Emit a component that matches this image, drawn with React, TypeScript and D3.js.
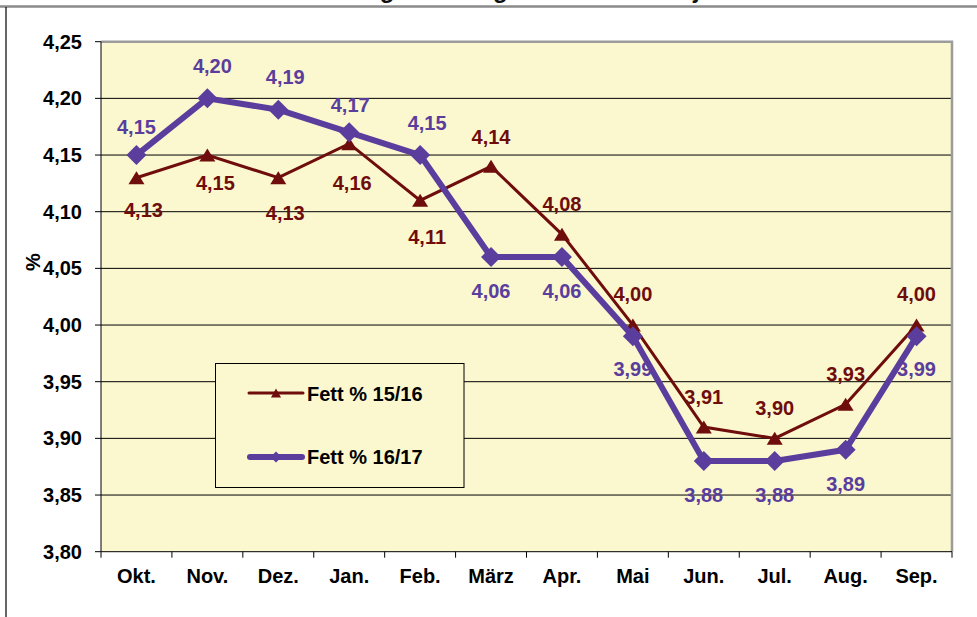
import React from "react";
import * as d3 from "d3";

const months = ["Okt.", "Nov.", "Dez.", "Jan.", "Feb.", "März", "Apr.", "Mai", "Jun.", "Jul.", "Aug.", "Sep."];
const fett1516 = [4.13, 4.15, 4.13, 4.16, 4.11, 4.14, 4.08, 4.0, 3.91, 3.9, 3.93, 4.0];
const fett1617 = [4.15, 4.2, 4.19, 4.17, 4.15, 4.06, 4.06, 3.99, 3.88, 3.88, 3.89, 3.99];
const yTicks = [3.8, 3.85, 3.9, 3.95, 4.0, 4.05, 4.1, 4.15, 4.2, 4.25];

// label centre offsets (dx, dy) from each point, in px
const off1516: [number, number][] = [
  [7, 32], [8, 28], [7, 35], [3, 39], [7, 37], [0, -29], [0, -30], [0, -31], [0, -30], [0, -30], [0, -30], [0, -31],
];
const off1617: [number, number][] = [
  [0, -28], [5, -32], [7, -33], [1, -27], [7, -32], [0, 34], [0, 34], [0, 33], [0, 34], [0, 34], [0, 34], [0, 33],
];

const W = 977;
const H = 617;
const plot = { left: 101, right: 952, top: 41.7, bottom: 551.7 };
const red = "#6f0c0c";
const purple = "#5a3d9c";
const fmt = (v: number) => v.toFixed(2).replace(".", ",");

export default function App() {
  React.useEffect(() => {
    document.body.style.margin = "0";
  }, []);

  const x = d3.scaleBand<string>().domain(months).range([plot.left, plot.right]);
  const y = d3.scaleLinear().domain([3.8, 4.25]).range([plot.bottom, plot.top]);
  const cx = (i: number) => (x(months[i]) ?? 0) + x.bandwidth() / 2;

  const line = d3
    .line<number>()
    .x((_, i) => cx(i))
    .y((d) => y(d));

  const tri = (px: number, py: number, w: number, h: number) =>
    `M${px},${py - h / 2}L${px + w / 2},${py + h / 2}L${px - w / 2},${py + h / 2}Z`;
  const dia = (px: number, py: number, s: number) =>
    `M${px},${py - s}L${px + s},${py}L${px},${py + s}L${px - s},${py}Z`;

  const font = "'Liberation Sans', Arial, sans-serif";
  const bounds = [...months.map((m) => x(m) ?? 0), plot.right];
  const fs = 20;

  return (
    <svg width={W} height={H} style={{ display: "block", fontFamily: font }}>
      <rect x={0} y={0} width={W} height={H} fill="#ffffff" />
      {/* title, cut off by the top edge */}
      <text x={495} y={-2} textAnchor="middle" fontSize={24} fontWeight="bold" fill="#111">
        Entwicklung des Fettgehaltes im Milchjahr
      </text>
      <line x1={0} x2={W} y1={6.5} y2={6.5} stroke="#8a8a8a" strokeWidth={2.5} />
      <line x1={6} x2={6} y1={7} y2={H} stroke="#000" strokeWidth={1.2} />

      <rect
        x={plot.left}
        y={plot.top}
        width={plot.right - plot.left}
        height={plot.bottom - plot.top}
        fill="#fbf7cf"
      />
      {yTicks.slice(1, -1).map((t) => (
        <line key={t} x1={plot.left} x2={plot.right} y1={y(t)} y2={y(t)} stroke="#000" strokeWidth={1} />
      ))}
      <path
        d={`M${plot.left},${plot.top}H${plot.right}V${plot.bottom}`}
        fill="none"
        stroke="#9c9c9c"
        strokeWidth={2.5}
      />
      <line x1={plot.left} x2={plot.left} y1={plot.top} y2={plot.bottom} stroke="#000" strokeWidth={1} />
      <line x1={plot.left} x2={plot.right} y1={plot.bottom} y2={plot.bottom} stroke="#000" strokeWidth={1} />

      {yTicks.map((t) => (
        <g key={t}>
          <line x1={plot.left - 6} x2={plot.left} y1={y(t)} y2={y(t)} stroke="#000" />
          <text x={82} y={y(t) + 7} textAnchor="end" fontSize={fs} fontWeight="bold" fill="#000">
            {fmt(t)}
          </text>
        </g>
      ))}
      {bounds.map((b, i) => (
        <line key={i} x1={b} x2={b} y1={plot.bottom} y2={plot.bottom + 6} stroke="#000" />
      ))}
      {months.map((m, i) => (
        <text key={m} x={cx(i)} y={583} textAnchor="middle" fontSize={fs} fontWeight="bold" fill="#000">
          {m}
        </text>
      ))}
      <text
        transform={`translate(40,262) rotate(-90)`}
        textAnchor="middle"
        fontSize={fs}
        fontWeight="bold"
        fill="#000"
      >
        %
      </text>

      {/* series 15/16 */}
      <path d={line(fett1516) ?? ""} fill="none" stroke={red} strokeWidth={3} />
      {fett1516.map((v, i) => (
        <path key={i} d={tri(cx(i), y(v), 16, 13)} fill={red} />
      ))}
      {/* series 16/17 */}
      <path d={line(fett1617) ?? ""} fill="none" stroke={purple} strokeWidth={6} strokeLinejoin="round" />
      {fett1617.map((v, i) => (
        <path key={i} d={dia(cx(i), y(v), 10)} fill={purple} />
      ))}

      {fett1516.map((v, i) => (
        <text
          key={i}
          x={cx(i) + off1516[i][0]}
          y={y(v) + off1516[i][1] + 7}
          textAnchor="middle"
          fontSize={fs}
          fontWeight="bold"
          fill={red}
        >
          {fmt(v)}
        </text>
      ))}
      {fett1617.map((v, i) => (
        <text
          key={i}
          x={cx(i) + off1617[i][0]}
          y={y(v) + off1617[i][1] + 7}
          textAnchor="middle"
          fontSize={fs}
          fontWeight="bold"
          fill={purple}
        >
          {fmt(v)}
        </text>
      ))}

      {/* legend */}
      <rect x={215.5} y={363.5} width={248.5} height={124} fill="#fbf7cf" stroke="#000" strokeWidth={1} />
      <line x1={249} x2={303} y1={393} y2={393} stroke={red} strokeWidth={3} strokeLinecap="round" />
      <path d={tri(276, 393, 10, 9)} fill={red} />
      <text x={307} y={400.5} fontSize={fs} fontWeight="bold" fill="#000">
        Fett % 15/16
      </text>
      <line x1={250} x2={302} y1={457} y2={457} stroke={purple} strokeWidth={6} strokeLinecap="round" />
      <path d={dia(276, 457, 5.5)} fill={purple} />
      <text x={307} y={464} fontSize={fs} fontWeight="bold" fill="#000">
        Fett % 16/17
      </text>
    </svg>
  );
}
